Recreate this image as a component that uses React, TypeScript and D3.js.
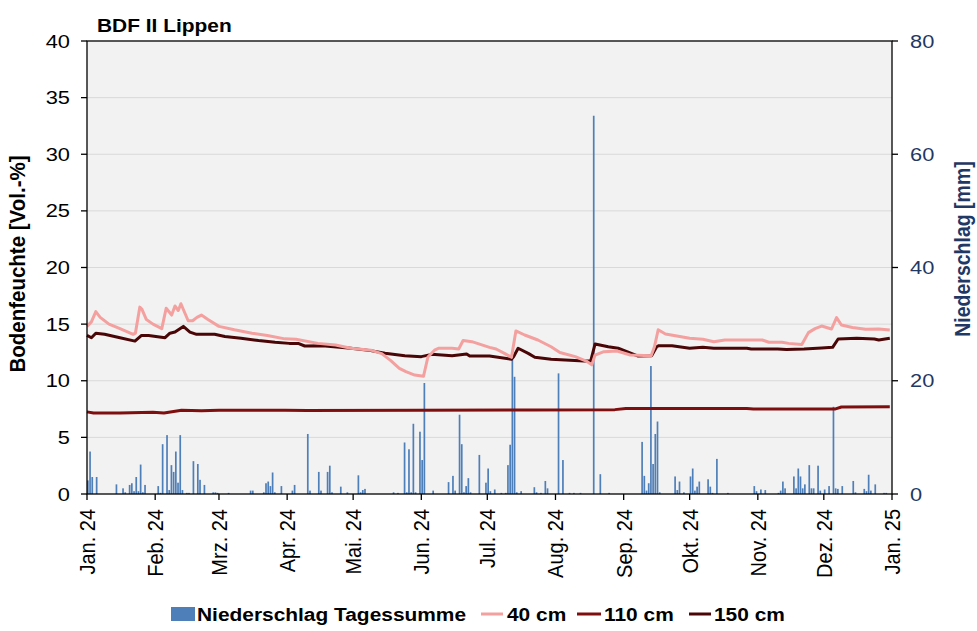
import React from "react";
import * as d3 from "d3";

// ---------- data ----------
const monthLabels = ["Jan. 24", "Feb. 24", "Mrz. 24", "Apr. 24", "Mai. 24", "Jun. 24", "Jul. 24", "Aug. 24", "Sep. 24", "Okt. 24", "Nov. 24", "Dez. 24", "Jan. 25"];
const leftTicks = [0, 5, 10, 15, 20, 25, 30, 35, 40];
const rightTicks = [0, 20, 40, 60, 80];

// daily precipitation (day of year 0 = 1 Jan 2024, mm)
const rainDays = [0, 1, 2, 4, 13, 16, 17, 19, 20, 21, 22, 23, 24, 25, 26, 32, 33, 34, 36, 37, 38, 39, 40, 41, 42, 43, 45, 46, 48, 50, 51, 53, 57, 58, 59, 64, 74, 75, 80, 81, 82, 83, 84, 85, 88, 93, 94, 100, 101, 105, 106, 109, 110, 111, 115, 118, 123, 124, 125, 126, 139, 141, 144, 145, 146, 147, 148, 149, 151, 152, 153, 157, 164, 166, 167, 169, 170, 171, 172, 173, 174, 178, 181, 182, 183, 185, 188, 190, 191, 192, 193, 194, 195, 197, 203, 204, 206, 208, 209, 214, 216, 219, 221, 224, 230, 233, 237, 252, 253, 254, 255, 256, 257, 258, 259, 260, 267, 268, 269, 271, 274, 275, 276, 277, 278, 282, 283, 284, 286, 291, 303, 304, 306, 308, 314, 315, 316, 317, 321, 322, 323, 324, 325, 326, 328, 329, 330, 332, 333, 335, 337, 339, 340, 341, 343, 348, 349, 353, 354, 355, 356, 358, 362, 363];
const rainMm = [2.4, 7.5, 3.0, 3.0, 1.7, 1.0, 0.3, 1.6, 1.9, 0.5, 3.0, 0.5, 5.2, 0.3, 1.6, 1.4, 0.2, 8.8, 10.4, 0.7, 5.1, 3.9, 7.5, 2.0, 10.4, 0.7, 0.2, 0.2, 5.8, 5.3, 2.5, 1.6, 0.3, 0.3, 0.2, 0.2, 0.6, 0.6, 0.3, 1.9, 2.2, 1.4, 3.8, 0.3, 1.4, 0.6, 1.6, 10.6, 0.6, 3.9, 0.6, 3.9, 5.0, 0.3, 1.3, 0.3, 3.3, 0.3, 0.7, 0.9, 0.3, 0.2, 9.1, 0.3, 7.9, 0.3, 12.4, 0.3, 11.0, 6.0, 19.6, 0.6, 2.1, 3.2, 0.6, 14.0, 8.8, 0.3, 1.4, 2.8, 0.3, 6.9, 2.0, 4.5, 0.5, 0.8, 0.2, 0.2, 5.1, 8.7, 23.7, 20.7, 0.3, 0.5, 1.2, 0.3, 0.2, 2.3, 1.0, 21.3, 6.0, 0.2, 0.2, 0.2, 66.8, 3.5, 0.2, 9.2, 3.2, 0.6, 1.9, 22.6, 5.3, 10.6, 12.8, 0.3, 3.1, 0.7, 2.2, 0.3, 3.1, 4.5, 0.6, 1.3, 2.2, 2.6, 1.3, 0.2, 6.2, 0.2, 1.4, 0.5, 0.8, 0.7, 0.2, 0.6, 2.2, 1.0, 3.1, 1.0, 4.5, 3.1, 1.0, 1.7, 5.1, 1.0, 1.0, 5.0, 0.6, 0.8, 1.4, 15.4, 1.0, 0.9, 1.4, 2.3, 0.3, 0.9, 0.5, 3.4, 0.6, 1.7, 0.2, 0.2];

// soil moisture 40 cm (day, Vol.-%)
const d40Days = [0, 2, 4, 6, 10, 15, 21, 22, 24, 25, 27, 30, 34, 36, 38.5, 40, 41.5, 42.7, 44, 46, 48, 50, 52, 55, 60, 67, 75, 82, 90, 95, 105, 113, 120, 129, 134, 138, 142, 145, 149, 153, 155, 158, 160, 166, 169, 171, 175, 183, 186, 190, 193, 195, 199, 205, 211, 215, 222, 227, 229.5, 231, 235, 241, 247, 256.5, 258, 259.7, 263, 274, 280, 285, 290, 307, 310, 316, 319, 325, 328, 331, 334, 338.5, 340.8, 343, 348, 354, 360, 365];
const d40Vals = [14.8, 15.2, 16.1, 15.6, 15.0, 14.6, 14.1, 14.2, 16.5, 16.3, 15.4, 15.0, 14.6, 16.4, 15.8, 16.6, 16.2, 16.8, 16.2, 15.3, 15.3, 15.6, 15.8, 15.4, 14.8, 14.5, 14.2, 14.0, 13.7, 13.66, 13.3, 13.15, 12.87, 12.7, 12.4, 11.8, 11.1, 10.8, 10.5, 10.4, 12.1, 12.7, 12.87, 12.87, 12.8, 13.55, 13.45, 12.95, 12.8, 12.4, 12.07, 14.4, 14.04, 13.6, 13.0, 12.5, 12.13, 11.74, 11.4, 12.27, 12.57, 12.63, 12.27, 12.2, 13.0, 14.5, 14.13, 13.75, 13.66, 13.45, 13.6, 13.6, 13.4, 13.4, 13.3, 13.2, 14.25, 14.6, 14.83, 14.57, 15.57, 14.92, 14.7, 14.54, 14.57, 14.48];

// soil moisture 110 cm
const d110Days = [0, 3, 15, 30, 35, 43, 52, 60, 90, 100, 150, 200, 240, 245, 300, 303, 340, 343, 365];
const d110Vals = [7.25, 7.15, 7.15, 7.22, 7.15, 7.4, 7.35, 7.4, 7.4, 7.38, 7.4, 7.42, 7.45, 7.55, 7.55, 7.5, 7.5, 7.68, 7.7];

// soil moisture 150 cm
const d150Days = [0, 2, 4, 8, 15, 21.8, 24.8, 28, 35.5, 37.7, 40, 43.8, 46.8, 49.8, 58, 62.7, 70, 78, 85.5, 92, 96, 99, 107, 120, 129, 135.5, 144.5, 152, 156.7, 166, 172.6, 174, 183, 193, 194, 196, 200.6, 203.6, 211, 226, 229, 231, 237, 241.5, 250.6, 256.7, 259, 260, 266, 274, 280, 285, 300, 302, 314, 318, 326, 334, 339, 341.5, 350, 358, 360, 365];
const d150Vals = [14.0, 13.8, 14.2, 14.1, 13.8, 13.5, 14.0, 14.0, 13.8, 14.2, 14.3, 14.8, 14.3, 14.1, 14.1, 13.9, 13.75, 13.55, 13.4, 13.3, 13.3, 13.07, 13.1, 12.87, 12.66, 12.42, 12.2, 12.13, 12.33, 12.2, 12.36, 12.18, 12.18, 11.9, 12.13, 12.87, 12.42, 12.07, 11.9, 11.74, 11.74, 13.25, 13.0, 12.87, 12.18, 12.2, 13.0, 13.1, 13.1, 12.87, 12.95, 12.87, 12.87, 12.8, 12.8, 12.75, 12.8, 12.9, 12.95, 13.69, 13.75, 13.69, 13.6, 13.75];

const seriesNames = ["Niederschlag Tagessumme", "40 cm", "110 cm", "150 cm"];

// ---------- chart ----------
const FONT = "'Liberation Sans', Arial, Helvetica, sans-serif";
const SX = 1.1; // horizontal text stretch
const SXN = 1.18; // stretch of tick numbers

const dayToDate = (d: number) => new Date(Date.UTC(2024, 0, 1) + d * 86400000);

export default function App() {
  const W = 977, H = 631;
  const L = 87, R = 892, T = 41, B = 494;
  const x = d3.scaleUtc().domain([dayToDate(0), dayToDate(366)]).range([L, R]);
  const yL = d3.scaleLinear().domain([0, 40]).range([B, T]);
  const yR = d3.scaleLinear().domain([0, 80]).range([B, T]);
  const months = d3.utcMonth.range(dayToDate(0), dayToDate(367));

  const mk = (days: number[], vals: number[]) =>
    d3.line<number>().x((_, i) => x(dayToDate(days[i]))).y((v) => yL(v))(vals) || "";

  const c40 = "#F3A09F", c110 = "#7F0E0E", c150 = "#4A0606";
  const lines = [
    { d: mk(d150Days, d150Vals), color: c150, w: 3 },
    { d: mk(d110Days, d110Vals), color: c110, w: 3 },
    { d: mk(d40Days, d40Vals), color: c40, w: 3 },
  ];
  const barW = 1.7;
  const blue = "#4F7FB8";
  const navy = "#1F3864";

  const hText = (tx: number, ty: number, s = SX) => `translate(${tx},${ty}) scale(${s},1)`;
  const vText = (tx: number, ty: number) => `translate(${tx},${ty}) scale(${SX},1) rotate(-90)`;

  const lgY = 614;
  return (
    <svg width={W} height={H} style={{ position: "fixed", left: 0, top: 0, background: "#fff" }} fontFamily={FONT}>
      <rect x={0} y={0} width={W} height={H} fill="#fff" />
      <rect x={L} y={T} width={R - L} height={B - T} fill="#F2F2F2" />
      {leftTicks.filter((t) => t > 0 && t < 40).map((t) => (
        <line key={"g" + t} x1={L} x2={R} y1={yL(t)} y2={yL(t)} stroke="#D9D9D9" strokeWidth={1} />
      ))}
      {/* bars */}
      {rainDays.map((d, i) => (
        <rect key={"b" + i} x={x(dayToDate(d))} y={yR(rainMm[i])} width={barW} height={B - yR(rainMm[i])} fill={blue} />
      ))}
      {lines.map((l, i) => (
        <path key={"l" + i} d={l.d} fill="none" stroke={l.color} strokeWidth={l.w} strokeLinejoin="round" />
      ))}
      {/* frame */}
      <rect x={L} y={T} width={R - L} height={B - T} fill="none" stroke="#000" strokeWidth={1.3} />
      {/* left axis */}
      {leftTicks.map((t) => (
        <g key={"lt" + t}>
          <line x1={L - 6} x2={L} y1={yL(t)} y2={yL(t)} stroke="#000" strokeWidth={1.3} />
          <text transform={hText(L - 17, yL(t) + 6.5, SXN)} textAnchor="end" fontSize={18.5} fill="#000">{t}</text>
        </g>
      ))}
      {/* right axis */}
      {rightTicks.map((t) => (
        <g key={"rt" + t}>
          <line x1={R} x2={R + 6} y1={yR(t)} y2={yR(t)} stroke="#000" strokeWidth={1.3} />
          <text transform={hText(R + 18, yR(t) + 6.5, SXN)} textAnchor="start" fontSize={18.5} fill={navy}>{t}</text>
        </g>
      ))}
      {/* x axis */}
      {months.map((m, i) => (
        <g key={"xt" + i}>
          <line x1={x(m)} x2={x(m)} y1={B} y2={B + 6} stroke="#000" strokeWidth={1.3} />
          <text transform={vText(x(m) + 8, B + 15)} textAnchor="end" fontSize={20} fill="#000">{monthLabels[i]}</text>
        </g>
      ))}
      {/* titles */}
      <text transform={hText(97, 31.5)} fontSize={19} fontWeight="bold" fill="#000">BDF II Lippen</text>
      <text transform={vText(25, 264)} textAnchor="middle" fontSize={20.5} fontWeight="bold" fill="#000">Bodenfeuchte [Vol.-%]</text>
      <text transform={vText(970, 249)} textAnchor="middle" fontSize={19.5} fontWeight="bold" fill={navy}>Niederschlag [mm]</text>
      {/* legend */}
      <rect x={171} y={lgY - 7} width={24} height={14} fill={blue} />
      <text transform={hText(197, lgY + 7)} fontSize={19} fontWeight="bold">{seriesNames[0]}</text>
      <line x1={481} x2={503} y1={lgY} y2={lgY} stroke={c40} strokeWidth={3} />
      <text transform={hText(507, lgY + 7)} fontSize={19} fontWeight="bold">{seriesNames[1]}</text>
      <line x1={577} x2={601} y1={lgY} y2={lgY} stroke={c110} strokeWidth={3} />
      <text transform={hText(604, lgY + 7)} fontSize={19} fontWeight="bold">{seriesNames[2]}</text>
      <line x1={689} x2={711} y1={lgY} y2={lgY} stroke={c150} strokeWidth={3} />
      <text transform={hText(714, lgY + 7)} fontSize={19} fontWeight="bold">{seriesNames[3]}</text>
    </svg>
  );
}
